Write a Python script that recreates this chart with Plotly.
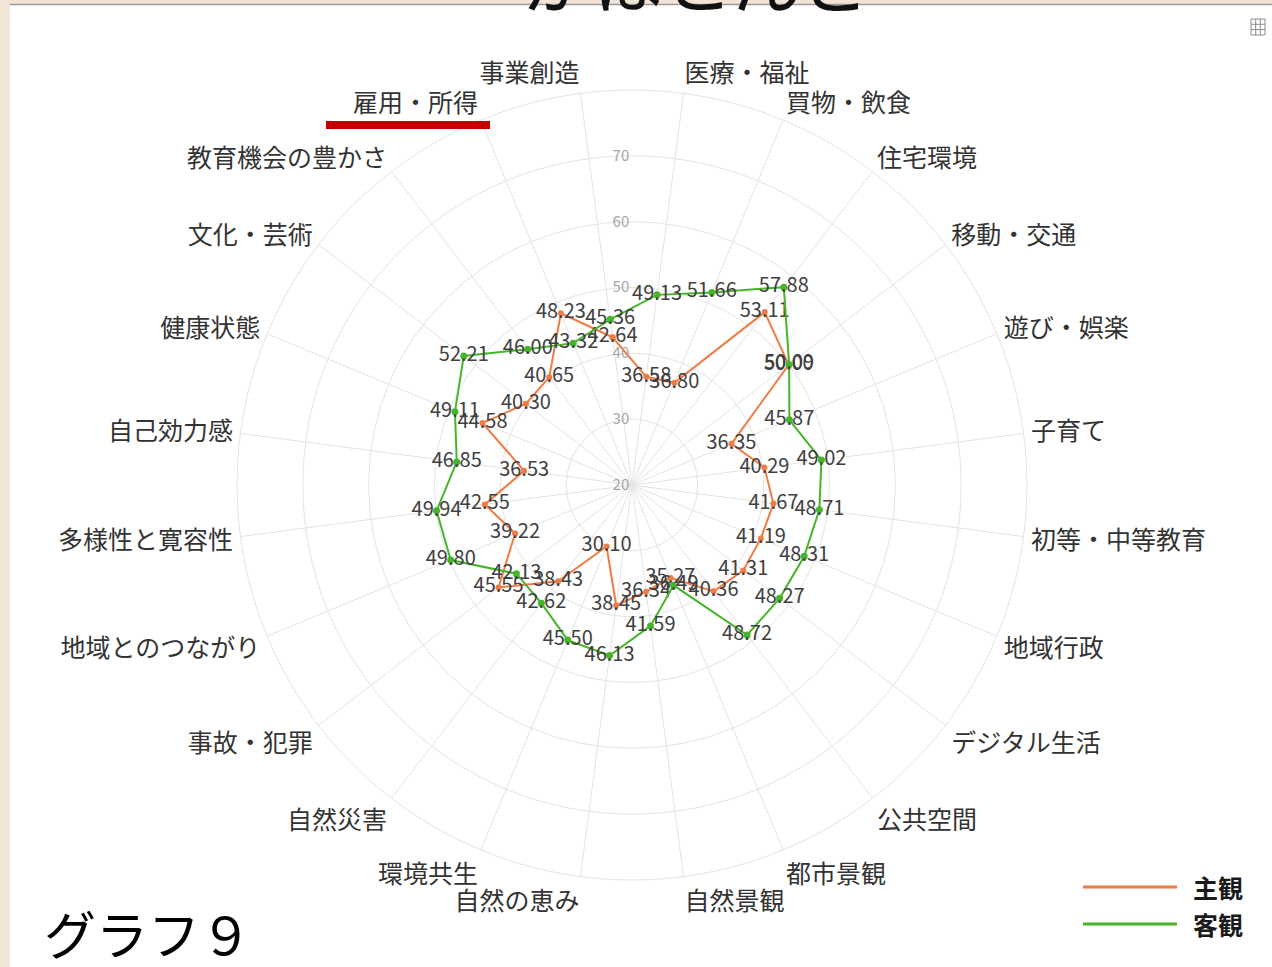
import plotly.graph_objects as go

W, H = 1272, 967

categories = ["事業創造", "医療・福祉", "買物・飲食", "住宅環境", "移動・交通", "遊び・娯楽",
              "子育て", "初等・中等教育", "地域行政", "デジタル生活", "公共空間", "都市景観",
              "自然景観", "自然の恵み", "環境共生", "自然災害", "事故・犯罪", "地域とのつながり",
              "多様性と寛容性", "自己効力感", "健康状態", "文化・芸術", "教育機会の豊かさ", "雇用・所得"]

subjective = [42.64, 36.58, 36.80, 53.11, 50.00, 36.35,
              40.29, 41.67, 41.19, 41.31, 40.36, 35.27,
              36.34, 38.45, 30.10, 38.43, 45.55, 39.22,
              42.55, 36.53, 44.58, 40.30, 40.65, 48.23]

objective = [45.36, 49.13, 51.66, 57.88, 50.09, 45.87,
             49.02, 48.71, 48.31, 48.27, 48.72, 36.49,
             41.59, 46.13, 45.50, 42.62, 42.13, 49.80,
             49.94, 46.85, 49.11, 52.21, 46.00, 43.32]

series_names = ["主観", "客観"]
radial_ticks = [20, 30, 40, 50, 60, 70]
radial_range = [20, 80]

ORANGE = "#EF7B45"
GREEN = "#46B52A"
GRID = "#e3e3e3"
FONT = "Noto Sans CJK JP, Noto Sans, sans-serif"

# polar placement (pixels)
cx, cy, R = 632, 485, 395


def px_x(x):
    return x / W


def px_y(y):
    return 1 - y / H


fig = go.Figure()

for name, vals, col, msize in [(series_names[0], subjective, ORANGE, 6),
                               (series_names[1], objective, GREEN, 7)]:
    fig.add_trace(go.Scatterpolar(
        r=vals + [vals[0]],
        theta=categories + [categories[0]],
        text=[f"{v:.2f}" for v in vals] + [""],
        mode="lines+markers+text",
        textposition="middle center",
        textfont=dict(family=FONT, size=20, color="#404040"),
        line=dict(color=col, width=2),
        marker=dict(color=col, size=msize),
        name=name,
        showlegend=False,
        hoverinfo="skip",
    ))

fig.update_layout(
    width=W, height=H,
    margin=dict(l=0, r=0, t=0, b=0),
    paper_bgcolor="white",
    font=dict(family=FONT),
    polar=dict(
        domain=dict(x=[px_x(cx - R), px_x(cx + R)], y=[px_y(cy + R), px_y(cy - R)]),
        bgcolor="white",
        angularaxis=dict(
            type="category",
            categoryarray=categories,
            direction="clockwise",
            rotation=97.5,
            showline=True,
            linecolor=GRID,
            linewidth=1,
            gridcolor=GRID,
            gridwidth=1,
            ticks="outside",
            ticklen=2,
            tickcolor="rgba(0,0,0,0)",
            tickfont=dict(family=FONT, size=25, color="#333333"),
        ),
        radialaxis=dict(
            range=radial_range,
            tickvals=radial_ticks,
            angle=90,
            tickangle=90,
            side="counterclockwise",
            showline=False,
            ticks="",
            gridcolor=GRID,
            gridwidth=1,
            tickfont=dict(family=FONT, size=15, color="#a6a6a6"),
        ),
    ),
    shapes=[
        # left beige strip and top band
        dict(type="rect", xref="paper", yref="paper", x0=0, x1=px_x(10), y0=0, y1=1,
             fillcolor="#F3E4D8", line=dict(width=0), layer="above"),
        dict(type="rect", xref="paper", yref="paper", x0=0, x1=1, y0=px_y(4), y1=1,
             fillcolor="#F3E4D8", line=dict(width=0), layer="above"),
        dict(type="line", xref="paper", yref="paper", x0=px_x(10), x1=1, y0=px_y(4.5), y1=px_y(4.5),
             line=dict(color="#9a9a9a", width=1.5), layer="above"),
        # red underline under 雇用・所得
        dict(type="rect", xref="paper", yref="paper", x0=px_x(326), x1=px_x(490),
             y0=px_y(129), y1=px_y(121), fillcolor="#C00000", line=dict(width=0), layer="above"),
        # legend lines
        dict(type="line", xref="paper", yref="paper", x0=px_x(1083), x1=px_x(1177),
             y0=px_y(887), y1=px_y(887), line=dict(color=ORANGE, width=3)),
        dict(type="line", xref="paper", yref="paper", x0=px_x(1083), x1=px_x(1177),
             y0=px_y(924), y1=px_y(924), line=dict(color=GREEN, width=3)),
        # small table icon at top right
        dict(type="rect", xref="paper", yref="paper", x0=px_x(1251), x1=px_x(1265),
             y0=px_y(35), y1=px_y(19), line=dict(color="#8c8c8c", width=1), fillcolor="white"),
        dict(type="line", xref="paper", yref="paper", x0=px_x(1255.7), x1=px_x(1255.7),
             y0=px_y(35), y1=px_y(19), line=dict(color="#8c8c8c", width=1)),
        dict(type="line", xref="paper", yref="paper", x0=px_x(1260.3), x1=px_x(1260.3),
             y0=px_y(35), y1=px_y(19), line=dict(color="#8c8c8c", width=1)),
        dict(type="line", xref="paper", yref="paper", x0=px_x(1251), x1=px_x(1265),
             y0=px_y(24.3), y1=px_y(24.3), line=dict(color="#8c8c8c", width=1)),
        dict(type="line", xref="paper", yref="paper", x0=px_x(1251), x1=px_x(1265),
             y0=px_y(29.6), y1=px_y(29.6), line=dict(color="#8c8c8c", width=1)),
    ],
    annotations=[
        dict(text="がほとんど", xref="paper", yref="paper", x=px_x(697), y=px_y(30),
             xanchor="center", yanchor="bottom", showarrow=False,
             font=dict(family=FONT, size=70, color="#111111")),
        dict(text=series_names[0], xref="paper", yref="paper", x=px_x(1191), y=px_y(887),
             xanchor="left", yanchor="middle", showarrow=False,
             font=dict(family=FONT, size=25, color="#1a1a1a", weight="bold")),
        dict(text=series_names[1], xref="paper", yref="paper", x=px_x(1191), y=px_y(924),
             xanchor="left", yanchor="middle", showarrow=False,
             font=dict(family=FONT, size=25, color="#1a1a1a", weight="bold")),
        dict(text="グラフ９", xref="paper", yref="paper", x=px_x(42), y=px_y(932),
             xanchor="left", yanchor="middle", showarrow=False,
             font=dict(family=FONT, size=52, color="#000000")),
    ],
)

fig.write_html(
    "out.html",
    config={"displayModeBar": False},
    post_script="document.body.style.margin='0';document.body.style.padding='0';"
                "document.documentElement.style.overflow='hidden';",
)
